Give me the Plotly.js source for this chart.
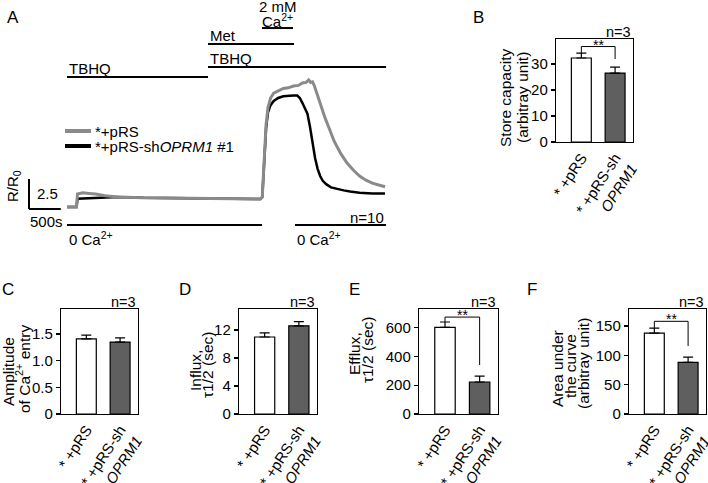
<!DOCTYPE html>
<html>
<head>
<meta charset="utf-8">
<script src="https://cdn.plot.ly/plotly-3.0.1.min.js"></script>
<style>
  html, body { margin: 0; padding: 0; background: #fff; }
  #chart { width: 708px; height: 483px; }
</style>
</head>
<body>
<div id="chart"></div>
<script>
// Panel A : traces (time in s, ratio R/R0)
const timeControl = [0, 150, 165, 250, 350, 450, 600, 800, 1200, 1700, 2200, 2700, 3040, 3070, 3090, 3110, 3130, 3160, 3200, 3250, 3320, 3400, 3480, 3560, 3640, 3700, 3760, 3800, 3830, 3860, 3890, 3920, 3960, 4000, 4060, 4120, 4200, 4300, 4400, 4500, 4600, 4700, 4800, 4900, 5000];
const ratioControl = [0.92, 0.92, 2.0, 2.1, 2.05, 2.0, 1.85, 1.75, 1.68, 1.65, 1.62, 1.6, 1.58, 1.75, 4.0, 6.0, 7.8, 9.2, 10.0, 10.4, 10.6, 10.8, 10.85, 11.0, 11.05, 11.25, 11.3, 11.5, 11.3, 11.35, 11.0, 10.5, 9.9, 9.3, 8.3, 7.5, 6.4, 5.4, 4.6, 4.0, 3.5, 3.15, 2.9, 2.75, 2.6];
const timeKnockdown = [0, 150, 165, 250, 350, 450, 550, 650, 800, 1200, 1700, 2200, 2700, 3040, 3070, 3090, 3110, 3130, 3160, 3200, 3250, 3320, 3400, 3480, 3560, 3620, 3660, 3700, 3740, 3780, 3820, 3860, 3900, 3940, 3980, 4020, 4080, 4150, 4250, 4350, 4450, 4600, 4800, 5000];
const ratioKnockdown = [0.92, 0.92, 1.6, 1.62, 1.65, 1.65, 1.68, 1.75, 1.75, 1.68, 1.65, 1.62, 1.6, 1.58, 1.75, 3.9, 5.8, 7.5, 8.8, 9.4, 9.75, 10.0, 10.15, 10.2, 10.2, 10.2, 10.0, 9.6, 9.2, 8.7, 7.6, 6.2, 5.0, 4.1, 3.5, 3.1, 2.8, 2.55, 2.4, 2.3, 2.2, 2.1, 2.05, 2.05];

// Panel A : treatment periods (s)
const treatmentLabels = ["TBHQ", "TBHQ", "Met", "2 mM<br>Ca<sup>2+</sup>", "0 Ca<sup>2+</sup>", "0 Ca<sup>2+</sup>"];
const treatmentStart = [0, 2217, 2217, 3066, 0, 3585];
const treatmentEnd = [2217, 5016, 3569, 3553, 3066, 5016];

// Panels B-F : mean and error of the two groups
const groups = ["* +pRS", "* +pRS-sh<br><i>OPRM1</i>"];
const storeCapacity = [32.3, 26.5];
const storeCapacityErr = [1.9, 2.3];
const amplitude = [1.41, 1.35];
const amplitudeErr = [0.07, 0.08];
const influx = [11.0, 12.6];
const influxErr = [0.6, 0.6];
const efflux = [600, 222];
const effluxErr = [38, 41];
const areaUnderCurve = [138, 88];
const areaUnderCurveErr = [8.5, 9];

const W = 708, H = 483;
const FONT = "Liberation Sans, Arial, sans-serif";
const fx = x => x / W;
const fy = y => 1 - y / H;

const GRAY = "#8a8a8a";
const DARK = "#5f5f5f";

const shapes = [];
const annotations = [];

function note(text, x, y, opts) {
  annotations.push(Object.assign({
    text: text, x: x, y: y, xref: "paper", yref: "paper",
    xanchor: "center", yanchor: "middle",
    showarrow: false, font: { family: FONT, size: 15, color: "#000" }
  }, opts || {}));
}

// ---- Panel A ----
const traces = [
  { x: timeKnockdown, y: ratioKnockdown, mode: "lines", line: { color: "#000", width: 2.5 }, xaxis: "x", yaxis: "y", hoverinfo: "skip" },
  { x: timeControl, y: ratioControl, mode: "lines", line: { color: GRAY, width: 3 }, xaxis: "x", yaxis: "y", hoverinfo: "skip" }
];

// level of each treatment bar, in R/R0 units
const treatmentLevel = [11.75, 12.58, 14.5, 15.83, -0.58, -0.58];
const treatmentSide = ["left", "left", "left", "center", "below", "below"];

treatmentLabels.forEach((label, i) => {
  shapes.push({
    type: "line", xref: "x", yref: "y",
    x0: treatmentStart[i], x1: treatmentEnd[i], y0: treatmentLevel[i], y1: treatmentLevel[i],
    line: { color: "#000", width: 2 }
  });
  const side = treatmentSide[i];
  if (side === "below") {
    note(label, treatmentStart[i], treatmentLevel[i], { xref: "x", yref: "y", xanchor: "left", yanchor: "top", yshift: -2 });
  } else {
    const lines = label.split("<br>");
    const base = side === "center" ? -4 : -2;
    lines.forEach((ln, k) => {
      const fromBottom = lines.length - 1 - k;
      note(ln, side === "center" ? (treatmentStart[i] + treatmentEnd[i]) / 2 : treatmentStart[i], treatmentLevel[i], {
        xref: "x", yref: "y", xanchor: side === "center" ? "center" : "left", yanchor: "bottom",
        yshift: base + fromBottom * 15
      });
    });
  }
});

// scale bar : 500 s by 2.5 R/R0
shapes.push({ type: "line", xref: "x", yref: "y", x0: -597, x1: -597, y0: 0.75, y1: 3.25, line: { color: "#000", width: 2 } });
shapes.push({ type: "line", xref: "x", yref: "y", x0: -597, x1: -97, y0: 0.75, y1: 0.75, line: { color: "#000", width: 2 } });
note("2.5", -510, 2.08, { xref: "x", yref: "y", xanchor: "left" });
note("500s", -620, -0.3, { xref: "x", yref: "y", xanchor: "left" });
note("R/R<sub>0</sub>", fx(13), fy(186), { textangle: -90 });
note("n=10", 5016, 0.05, { xref: "x", yref: "y", xanchor: "right" });

// legend
shapes.push({ type: "line", xref: "paper", yref: "paper", x0: fx(65), x1: fx(91), y0: fy(131), y1: fy(131), line: { color: GRAY, width: 4 } });
shapes.push({ type: "line", xref: "paper", yref: "paper", x0: fx(65), x1: fx(91), y0: fy(146), y1: fy(146), line: { color: "#000", width: 4 } });
note("*+pRS", fx(93), fy(131), { xanchor: "left" });
note("*+pRS-sh<i>OPRM1</i> #1", fx(93), fy(146), { xanchor: "left" });

note("A", fx(13), fy(18), { font: { family: FONT, size: 17, color: "#000" } });

const layout = {
  width: W, height: H,
  margin: { l: 0, r: 0, t: 0, b: 0 },
  paper_bgcolor: "#fff", plot_bgcolor: "rgba(0,0,0,0)",
  showlegend: false,
  font: { family: FONT, size: 15, color: "#000" },
  xaxis: { domain: [fx(25), fx(390)], range: [-660, 5078], visible: false },
  yaxis: { domain: [fy(245), 1], range: [-2.25, 18.167], visible: false },
  shapes: shapes,
  annotations: annotations
};

// ---- Panels B-F ----
const barPanels = [
  { id: 2, letter: "B", values: storeCapacity, errors: storeCapacityErr, frame: [556, 633, 39, 142], yMax: 39.6,
    ticks: [0, 10, 20, 30], tickText: ["0", "10", "20", "30"], letterPos: [478, 18],
    titles: [["Store capacity", 505, 98], ["(arbitray unit)", 522, 98]], sig: [34.2, 36.7, 31.9] },
  { id: 3, letter: "C", values: amplitude, errors: amplitudeErr, frame: [61, 138, 309, 414], yMax: 1.97,
    ticks: [0, 0.5, 1, 1.5], tickText: ["0", "0.5", "1.0", "1.5"], letterPos: [8, 289],
    titles: [["Amplitude", 8, 372], ["of Ca<sup>2+</sup> entry", 23, 369]], sig: null },
  { id: 4, letter: "D", values: influx, errors: influxErr, frame: [239, 317, 309, 414], yMax: 15,
    ticks: [0, 4, 8, 12], tickText: ["0", "4", "8", "12"], letterPos: [185, 289],
    titles: [["Influx,", 195, 371], ["\u03c41/2 (sec)", 207, 365]], sig: null },
  { id: 5, letter: "E", values: efflux, errors: effluxErr, frame: [419, 498, 309, 414], yMax: 728,
    ticks: [0, 200, 400, 600], tickText: ["0", "200", "400", "600"], letterPos: [355, 289],
    titles: [["Efflux,", 354, 354], ["\u03c41/2 (sec)", 367, 350]], sig: [638, 672, 340] },
  { id: 6, letter: "F", values: areaUnderCurve, errors: areaUnderCurveErr, frame: [629, 706, 309, 414], yMax: 179,
    ticks: [0, 50, 100, 150], tickText: ["0", "50", "100", "150"], letterPos: [532, 289],
    titles: [["Area under", 557, 369], ["the curve", 570, 366], ["(arbitray unit)", 583, 364]], sig: [146.5, 158, 116] }
];

barPanels.forEach(p => {
  const xa = "x" + p.id, ya = "y" + p.id;
  layout["xaxis" + p.id] = {
    domain: [fx(p.frame[0]), fx(p.frame[1])], anchor: ya,
    range: [-0.75, 1.53], tickvals: [0, 1], ticktext: groups, tickangle: -57,
    ticklabeloverflow: "allow",
    ticks: "", showgrid: false, zeroline: false,
    showline: true, mirror: true, linecolor: "#000", linewidth: 1.2,
    tickfont: { family: FONT, size: 15, color: "#000" }
  };
  layout["yaxis" + p.id] = {
    domain: [fy(p.frame[3]), fy(p.frame[2])], anchor: xa,
    range: [0, p.yMax], tickvals: p.ticks, ticktext: p.tickText,
    ticks: "outside", ticklen: 4, tickwidth: 1.2, tickcolor: "#000",
    showgrid: false, zeroline: false,
    showline: true, mirror: true, linecolor: "#000", linewidth: 1.2,
    tickfont: { family: FONT, size: 15, color: "#000" }
  };

  traces.push({
    type: "bar", x: [0, 1], y: p.values, xaxis: xa, yaxis: ya, width: 0.59,
    marker: { color: ["#ffffff", DARK], line: { color: "#000", width: 1.2 } },
    error_y: { type: "data", symmetric: false, array: p.errors, arrayminus: [0, 0], color: "#000", thickness: 1.2, width: 5 },
    hoverinfo: "skip"
  });

  if (p.sig) {
    const [lb, top, rb] = p.sig;
    const ln = { color: "#000", width: 1 };
    shapes.push({ type: "line", xref: xa, yref: ya, x0: 0, x1: 0, y0: lb, y1: top, line: ln });
    shapes.push({ type: "line", xref: xa, yref: ya, x0: 0, x1: 1, y0: top, y1: top, line: ln });
    shapes.push({ type: "line", xref: xa, yref: ya, x0: 1, x1: 1, y0: top, y1: rb, line: ln });
    note("**", 0.5, top, { xref: xa, yref: ya, yanchor: "bottom", yshift: -8, font: { family: FONT, size: 14, color: "#000" } });
  }

  note("n=3", fx(p.frame[1]), fy(p.frame[2] - 7), { xanchor: "right", font: { family: FONT, size: 14.5, color: "#000" } });
  note(p.letter, fx(p.letterPos[0]), fy(p.letterPos[1]), { font: { family: FONT, size: 17, color: "#000" } });
  p.titles.forEach(t => {
    note(t[0], fx(t[1]), fy(t[2]), { textangle: -90, font: { family: FONT, size: 15.5, color: "#000" } });
  });
});

Plotly.newPlot("chart", traces, layout, { displayModeBar: false, staticPlot: true });
</script>
</body>
</html>
